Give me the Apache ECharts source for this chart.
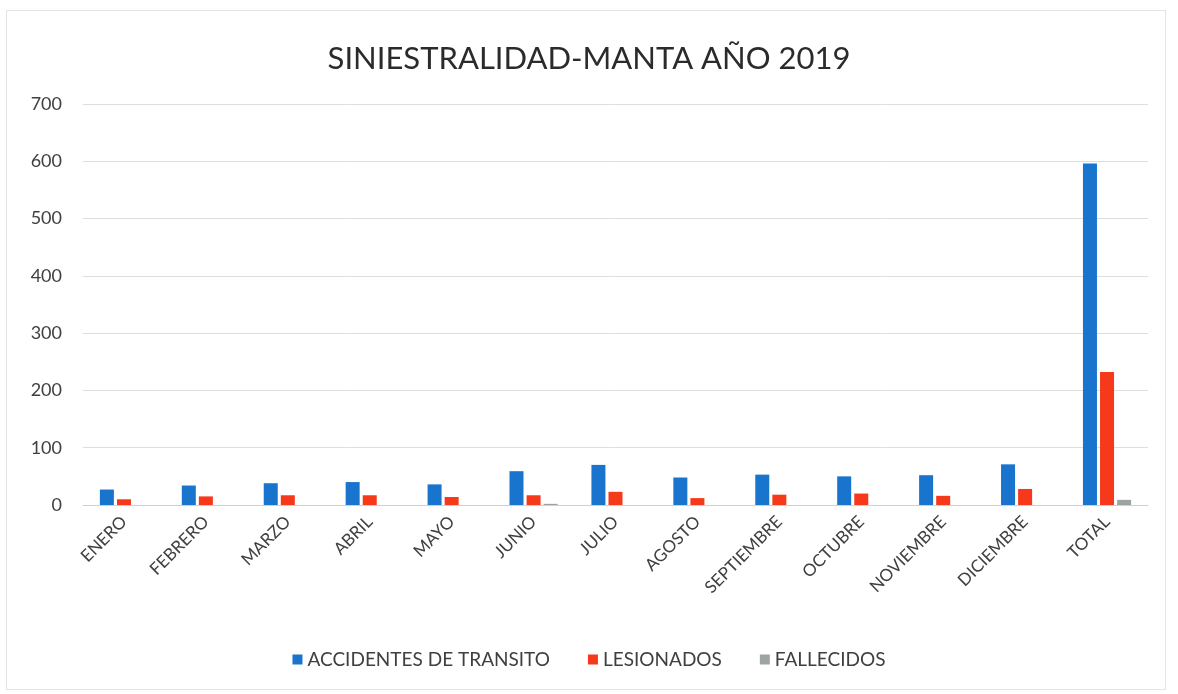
<!DOCTYPE html>
<html>
<head>
<meta charset="utf-8">
<script src="https://cdn.jsdelivr.net/npm/echarts@6/dist/echarts.min.js"></script>
<style>
html,body{margin:0;padding:0;background:#fff;}
#frame{position:absolute;left:6px;top:10px;width:1160px;height:680px;border:1px solid #e4e4e4;box-sizing:border-box;}
#chart{position:absolute;left:0;top:0;width:1178px;height:694px;}
</style>
</head>
<body>
<div id="frame"></div>
<div id="chart"></div>
<script>
const titleText = 'SINIESTRALIDAD-MANTA AÑO 2019';
const categories = ['ENERO','FEBRERO','MARZO','ABRIL','MAYO','JUNIO','JULIO','AGOSTO','SEPTIEMBRE','OCTUBRE','NOVIEMBRE','DICIEMBRE','TOTAL'];
const seriesNames = ['ACCIDENTES DE TRANSITO','LESIONADOS','FALLECIDOS'];
const accidentes = [27, 34, 38, 40, 36, 59, 70, 48, 53, 50, 52, 71, 596];
const lesionados = [10, 15, 17, 17, 14, 17, 23, 12, 18, 20, 16, 28, 232];
const fallecidos = [0, 0, 0, 0, 0, 2, 0, 0, 0, 0, 0, 0, 9];
const colors = ['#1874cd', '#f5391a', '#9ea3a3'];

const chart = echarts.init(document.getElementById('chart'));
const font = 'Lato, "Open Sans", sans-serif';
const dataSets = [accidentes, lesionados, fallecidos];
chart.setOption({
  animation: false,
  title: {
    text: titleText, left: 'center', top: 38,
    textStyle: {fontFamily: font, fontSize: 31, fontWeight: 'normal', color: '#2b2b2b'}
  },
  legend: {
    bottom: 20, left: 'center', itemWidth: 10, itemHeight: 10, itemGap: 38,
    icon: 'rect',
    textStyle: {fontFamily: font, fontSize: 19, color: '#404040'},
    data: seriesNames
  },
  grid: {left: 83, right: 30, top: 104, bottom: 189, containLabel: false},
  xAxis: {
    type: 'category', data: categories,
    axisLine: {lineStyle: {color: '#d0d0d0'}},
    axisTick: {show: false},
    axisLabel: {rotate: 45, fontFamily: font, fontSize: 17, color: '#404040', margin: 14, interval: 0}
  },
  yAxis: {
    type: 'value', min: 0, max: 700, interval: 100,
    axisLine: {show: false}, axisTick: {show: false},
    splitLine: {lineStyle: {color: '#dedede'}},
    axisLabel: {fontFamily: font, fontSize: 18, color: '#404040', margin: 21}
  },
  series: seriesNames.map((n, i) => ({
    name: n, type: 'bar', data: dataSets[i],
    barWidth: 14, barGap: '22%',
    itemStyle: {color: colors[i]}
  }))
});
</script>
</body>
</html>
